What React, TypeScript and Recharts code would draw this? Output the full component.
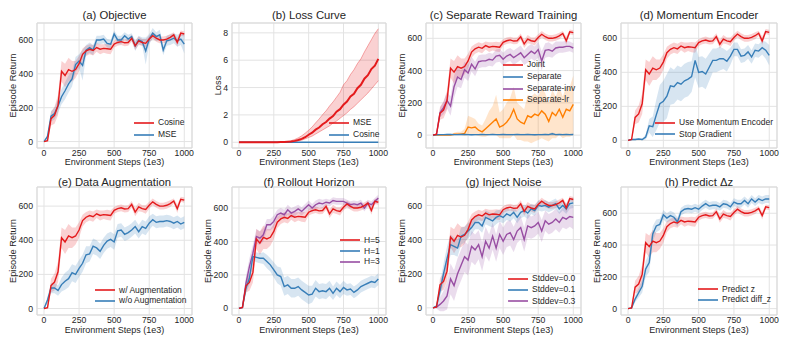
import React from "react";
import {
  ComposedChart,
  Line,
  Area,
  XAxis,
  YAxis,
  CartesianGrid,
  ReferenceArea,
} from "recharts";

const RED = "#e41a1c";
const BLUE = "#377eb8";
const PURPLE = "#984ea3";
const ORANGE = "#ff7f00";
const TEXT = "#262626";

// environment steps (1e3)
const STEPS = [
  0, 25, 50, 75, 100, 125, 150, 175, 200, 225, 250, 275, 300, 325, 350, 375,
  400, 425, 450, 475, 500, 525, 550, 575, 600, 625, 650, 675, 700, 725, 750,
  775, 800, 825, 850, 875, 900, 925, 950, 975, 1000,
];
const X_TICKS = [0, 250, 500, 750, 1000];
const RET_TICKS = [0, 200, 400, 600];
const LOSS_TICKS = [0, 2, 4, 6, 8];

// baseline (Cosine / Joint / momentum / w/ aug / H=5 / stddev 0 / predict z)
const BASE_MEAN = [
  0, 5, 135, 155, 215, 415, 390, 425, 415, 425, 460, 515, 535, 545, 538, 555,
  545, 550, 548, 545, 575, 585, 590, 583, 585, 610, 565, 595, 585, 580, 605,
  625, 610, 600, 600, 605, 615, 630, 585, 640, 635,
];
const BASE_SD = [
  0, 5, 40, 50, 60, 60, 70, 70, 60, 50, 45, 35, 30, 30, 30, 25, 30, 25, 30, 30,
  20, 20, 20, 20, 20, 20, 25, 25, 20, 25, 20, 20, 20, 20, 20, 20, 20, 15, 25,
  15, 15,
];

// (a) objective
const OBJ_MSE = [
  0, 30, 150, 165, 210, 265, 300, 340, 370, 455, 475, 450, 540, 555, 540, 600,
  600, 605, 580, 575, 635, 600, 600, 625, 605, 620, 565, 600, 590, 535, 605,
  640, 620, 630, 540, 595, 600, 610, 595, 605, 575,
];
const OBJ_MSE_SD = [
  0, 15, 30, 35, 40, 45, 50, 50, 45, 45, 40, 90, 30, 30, 30, 25, 25, 25, 25,
  25, 20, 25, 25, 20, 25, 20, 30, 25, 25, 80, 30, 30, 25, 30, 30, 30, 30, 30,
  35, 35, 55,
];

// (b) loss curve
const LOSS_MSE = [
  0, 0, 0, 0, 0, 0, 0, 0, 0, 0, 0, 0, 0.01, 0.01, 0.03, 0.05, 0.1, 0.17, 0.25,
  0.37, 0.55, 0.7, 0.92, 1.08, 1.32, 1.48, 1.73, 1.92, 2.24, 2.42, 2.75, 2.98,
  3.35, 3.55, 3.95, 4.2, 4.65, 4.9, 5.35, 5.6, 6.1,
];
const LOSS_MSE_HI = [
  0, 0, 0, 0, 0, 0, 0, 0, 0, 0, 0, 0, 0, 0.03, 0.06, 0.12, 0.2, 0.32, 0.47,
  0.66, 0.88, 1.12, 1.42, 1.7, 2.02, 2.3, 2.65, 2.95, 3.3, 3.65, 4.2, 4.5,
  4.95, 5.3, 5.75, 6.1, 6.6, 7.05, 7.5, 7.95, 8.3,
];
const LOSS_MSE_LO = [
  0, 0, 0, 0, 0, 0, 0, 0, 0, 0, 0, 0, 0, 0, 0, 0.02, 0.05, 0.1, 0.15, 0.25,
  0.35, 0.45, 0.6, 0.75, 0.9, 1.05, 1.2, 1.4, 1.55, 1.75, 1.95, 2.15, 2.4, 2.6,
  2.85, 3.1, 3.35, 3.6, 3.9, 4.2, 4.5,
];
const LOSS_COS = [
  0, 0, 0, 0, 0, 0, 0, 0, 0, 0, 0, 0, 0, 0, 0, 0, 0, 0, 0, 0, 0, 0, 0, 0, 0, 0,
  0, 0, 0, 0, 0, 0, 0, 0, 0, 0, 0, 0, 0, 0, 0,
];

// (c) separate reward training
const SEP = [
  0, 2, 3, 3, 4, 4, 3, 3, 4, 4, 3, 2, 3, 3, 4, 3, 3, 4, 3, 3, 4, 3, 3, 3, 4, 3,
  3, 4, 3, 2, 3, 3, 4, 3, 8, 3, 4, 3, 4, 3, 4,
];
const SEP_SD = [
  0, 3, 3, 3, 4, 4, 4, 4, 4, 4, 4, 4, 4, 4, 4, 4, 4, 4, 4, 4, 5, 5, 5, 5, 5, 5,
  5, 5, 5, 5, 5, 5, 5, 5, 10, 5, 5, 5, 5, 5, 5,
];
const SEP_INV = [
  0, 5, 140, 170, 215, 180, 300, 360, 345, 405, 385, 440, 410, 455, 460, 460,
  470, 465, 490, 495, 470, 490, 500, 480, 495, 510, 480, 500, 520, 505, 530,
  460, 525, 530, 520, 540, 545, 545, 550, 550, 540,
];
const SEP_INV_SD = [
  0, 5, 30, 40, 50, 60, 70, 60, 55, 50, 50, 45, 45, 40, 40, 40, 40, 40, 40, 40,
  40, 40, 40, 45, 45, 45, 45, 50, 45, 45, 50, 60, 45, 45, 40, 40, 35, 35, 35,
  30, 30,
];
const SEP_LR = [
  0, 0, 0, 0, 0, 0, 5, 5, 5, 10, 50, 45, 50, 30, 20, 40, 60, 80, 100, 50, 60,
  80, 110, 160, 100, 80, 70, 120, 110, 130, 120, 150, 130, 85, 140, 120, 160,
  110, 160, 150, 190,
];
const SEP_LR_LO = [
  0, 0, 0, 0, 0, 0, 0, 0, 0, -5, 0, 0, 0, -5, -10, -10, 0, 0, 0, -20, -20, -20,
  -20, 0, -30, -30, -40, -40, -50, -40, -30, -20, -30, -40, -20, -20, 0, -20,
  -10, -10, 0,
];
const SEP_LR_HI = [
  0, 0, 0, 0, 0, 0, 15, 20, 20, 40, 120, 110, 100, 70, 60, 100, 150, 180, 250,
  140, 160, 200, 230, 300, 200, 180, 160, 250, 240, 260, 240, 290, 260, 200,
  280, 240, 300, 240, 300, 300, 370,
];

// (d) momentum encoder
const STOPGRAD = [
  0, 5, 5, 8, 5, 20, 85, 80, 150, 215, 230, 260, 320, 315, 340, 330, 350, 360,
  375, 470, 400, 405, 390, 430, 470, 470, 480, 480, 465, 495, 535, 535, 495,
  500, 520, 490, 530, 525, 545, 530, 500,
];
const STOPGRAD_SD = [
  0, 5, 5, 5, 5, 15, 40, 60, 90, 110, 120, 130, 110, 100, 100, 100, 100, 100,
  90, 100, 90, 90, 90, 80, 70, 70, 70, 60, 60, 50, 40, 40, 40, 40, 40, 40, 40,
  40, 40, 50, 60,
];

// (e) data augmentation
const NOAUG = [
  0, 50, 120, 120, 105, 140, 160, 175, 210, 200, 235, 265, 315, 320, 365, 355,
  335, 370, 395, 405, 390, 455, 460, 435, 445, 460, 480, 450, 480, 470, 500,
  520, 505, 510, 510, 515, 510, 500, 510, 495, 505,
];
const NOAUG_SD = [
  0, 20, 30, 30, 30, 40, 50, 50, 50, 50, 50, 50, 50, 45, 45, 45, 45, 45, 45, 45,
  45, 40, 40, 40, 40, 40, 40, 40, 40, 40, 40, 35, 35, 35, 35, 35, 35, 35, 35,
  35, 35,
];

// (f) rollout horizon
const H1 = [
  0, 5, 120, 180, 310, 305, 300, 300, 280, 260, 230, 200, 190, 130, 140, 120,
  120, 130, 110, 95, 80, 85, 120, 100, 105, 100, 120, 90, 120, 100, 125, 110,
  115, 95, 110, 130, 140, 150, 160, 155, 175,
];
const H1_SD = [
  0, 5, 30, 40, 20, 30, 30, 35, 40, 40, 45, 50, 55, 55, 55, 55, 55, 55, 55, 55,
  55, 50, 50, 45, 45, 45, 45, 40, 40, 40, 40, 35, 35, 35, 35, 35, 35, 35, 35,
  35, 35,
];
const H3 = [
  0, 5, 150, 250, 330, 430, 420, 440, 500, 500, 520, 560, 570, 560, 590, 570,
  580, 595, 580, 600, 620, 600, 620, 630, 625, 635, 630, 645, 640, 640, 640,
  630, 620, 625, 620, 630, 600, 630, 620, 640, 660,
];
const H3_SD = [
  0, 5, 40, 50, 50, 45, 40, 40, 35, 35, 35, 30, 30, 30, 30, 30, 30, 25, 25, 25,
  25, 25, 25, 25, 25, 20, 20, 20, 20, 20, 20, 20, 20, 20, 20, 20, 20, 20, 20,
  20, 20,
];

// (g) inject noise
const NOISE01 = [
  0, 10, 100, 200, 290, 370, 360, 350, 420, 430, 450, 470, 500, 500, 480, 530,
  520, 510, 530, 540, 530, 550, 540, 560, 530, 560, 570, 555, 580, 570, 600,
  595, 600, 590, 600, 610, 580, 600, 580, 610, 615,
];
const NOISE01_SD = [
  0, 10, 40, 60, 70, 60, 50, 50, 50, 45, 45, 40, 40, 40, 40, 40, 40, 40, 40, 35,
  35, 35, 35, 35, 35, 35, 35, 35, 30, 30, 30, 30, 30, 30, 30, 30, 30, 30, 30,
  30, 30,
];
const NOISE03 = [
  0, 5, 20, 40, 70, 170, 130, 200, 250, 300, 280, 360, 340, 370, 300, 390, 350,
  420, 350, 430, 390, 430, 440, 400, 450, 470, 400, 480, 470, 480, 500, 450,
  510, 490, 500, 520, 500, 530, 520, 535, 530,
];
const NOISE03_SD = [
  0, 10, 40, 60, 80, 90, 90, 90, 90, 90, 90, 90, 90, 85, 85, 85, 80, 80, 80, 80,
  80, 75, 75, 75, 70, 70, 70, 70, 65, 65, 65, 65, 60, 60, 60, 60, 60, 60, 60,
  60, 70,
];

// (h) predict delta z
const DIFFZ = [
  0, 5, 60, 100, 140, 250, 290, 470, 520, 530, 590, 570, 585, 575, 545, 610,
  625, 630, 625, 635, 625, 645, 660, 645, 650, 650, 640, 660, 655, 640, 670,
  660, 660, 680, 660, 690, 670, 690, 680, 690, 690,
];
const DIFFZ_SD = [
  0, 5, 20, 30, 40, 50, 60, 50, 40, 35, 30, 30, 30, 30, 30, 25, 25, 25, 25, 25,
  25, 25, 25, 25, 25, 25, 25, 25, 25, 25, 25, 25, 25, 25, 25, 25, 25, 25, 25,
  25, 25,
];

type Series = {
  name: string;
  color: string;
  mean: number[];
  lo?: number[];
  hi?: number[];
  sd?: number[];
  edges?: boolean;
  width?: number;
};

type Spec = {
  title: string;
  col: number;
  row: number;
  yDomain: [number, number];
  yTicks?: number[];
  yLabel?: string;
  yLabelX?: number;
  legend: { x: number; y: number; rowH: number };
  series: Series[];
};

const COLS = [
  { plotLeft: 37, plotRight: 192 },
  { plotLeft: 232, plotRight: 386 },
  { plotLeft: 426, plotRight: 581 },
  { plotLeft: 621, plotRight: 777 },
];
const ROWS = [
  { top: 0, height: 172, plotTop: 23, plotBottom: 148, labelOffset: 7, titleY: 14.5 },
  { top: 164, height: 181, plotTop: 187, plotBottom: 315, labelOffset: 12, titleY: 181.5 },
];
const Y_W = 37;
const X_DOMAIN: [number, number] = [-50, 1055];

const PANELS: Spec[] = [
  {
    title: "(a) Objective", col: 0, row: 0, yDomain: [-38, 700],
    legend: { x: 134, y: 123, rowH: 11.5 },
    series: [
      { name: "Cosine", color: RED, mean: BASE_MEAN, sd: BASE_SD },
      { name: "MSE", color: BLUE, mean: OBJ_MSE, sd: OBJ_MSE_SD },
    ],
  },
  {
    title: "(b) Loss Curve", col: 1, row: 0, yDomain: [-0.42, 8.72],
    yTicks: LOSS_TICKS, yLabel: "Loss", yLabelX: 23,
    legend: { x: 329, y: 123, rowH: 11.5 },
    series: [
      { name: "MSE", color: RED, mean: LOSS_MSE, lo: LOSS_MSE_LO, hi: LOSS_MSE_HI, edges: true, width: 2 },
      { name: "Cosine", color: BLUE, mean: LOSS_COS, lo: LOSS_COS, hi: LOSS_COS },
    ],
  },
  {
    title: "(c) Separate Reward Training", col: 2, row: 0, yDomain: [-80, 695],
    legend: { x: 503, y: 65, rowH: 11.8 },
    series: [
      { name: "Joint", color: RED, mean: BASE_MEAN, sd: BASE_SD },
      { name: "Separate", color: BLUE, mean: SEP, sd: SEP_SD },
      { name: "Separate-inv", color: PURPLE, mean: SEP_INV, sd: SEP_INV_SD },
      { name: "Separate-lr", color: ORANGE, mean: SEP_LR, lo: SEP_LR_LO, hi: SEP_LR_HI },
    ],
  },
  {
    title: "(d) Momentum Encoder", col: 3, row: 0, yDomain: [-45, 690],
    legend: { x: 655, y: 123, rowH: 11.3 },
    series: [
      { name: "Use Momentum Encoder", color: RED, mean: BASE_MEAN, sd: BASE_SD },
      { name: "Stop Gradient", color: BLUE, mean: STOPGRAD, sd: STOPGRAD_SD },
    ],
  },
  {
    title: "(e) Data Augmentation", col: 0, row: 1, yDomain: [-38, 712],
    legend: { x: 95, y: 290.3, rowH: 10.3 },
    series: [
      { name: "w/ Augmentation", color: RED, mean: BASE_MEAN, sd: BASE_SD },
      { name: "w/o Augmentation", color: BLUE, mean: NOAUG, sd: NOAUG_SD },
    ],
  },
  {
    title: "(f) Rollout Horizon", col: 1, row: 1, yDomain: [-40, 726],
    legend: { x: 340, y: 240.3, rowH: 10.8 },
    series: [
      { name: "H=5", color: RED, mean: BASE_MEAN, sd: BASE_SD },
      { name: "H=1", color: BLUE, mean: H1, sd: H1_SD },
      { name: "H=3", color: PURPLE, mean: H3, sd: H3_SD },
    ],
  },
  {
    title: "(g) Inject Noise", col: 2, row: 1, yDomain: [-42, 708],
    legend: { x: 508, y: 278.7, rowH: 11.3 },
    series: [
      { name: "Stddev=0.0", color: RED, mean: BASE_MEAN, sd: BASE_SD },
      { name: "Stddev=0.1", color: BLUE, mean: NOISE01, sd: NOISE01_SD },
      { name: "Stddev=0.3", color: PURPLE, mean: NOISE03, sd: NOISE03_SD },
    ],
  },
  {
    title: "(h) Predict \u0394z", col: 3, row: 1, yDomain: [-40, 765],
    legend: { x: 698, y: 289.3, rowH: 10.4 },
    series: [
      { name: "Predict z", color: RED, mean: BASE_MEAN, sd: BASE_SD },
      { name: "Predict diff_z", color: BLUE, mean: DIFFZ, sd: DIFFZ_SD },
    ],
  },
];

function LegendBox({ items, x, y, rowH }: { items: Series[]; x: number; y: number; rowH: number }) {
  return (
    <div style={{ position: "absolute", left: x, top: y - rowH / 2, zIndex: 3 }}>
      {items.map((it) => (
        <div key={it.name} style={{ display: "flex", alignItems: "center", height: rowH }}>
          <svg width={20} height={4} style={{ marginRight: 4, display: "block" }}>
            <line x1={0} y1={2} x2={20} y2={2} stroke={it.color} strokeWidth={1.6} />
          </svg>
          <span style={{ fontSize: 8.5, lineHeight: `${rowH}px`, color: TEXT, whiteSpace: "nowrap" }}>
            {it.name}
          </span>
        </div>
      ))}
    </div>
  );
}

function Panel({ spec }: { spec: Spec }) {
  const col = COLS[spec.col];
  const row = ROWS[spec.row];
  const left = col.plotLeft - Y_W;
  const width = col.plotRight - left + 4;

  const data = STEPS.map((x, i) => {
    const r: any = { x };
    spec.series.forEach((s, k) => {
      const lo = s.lo ? s.lo[i] : s.mean[i] - (s.sd ? s.sd[i] : 0);
      const hi = s.hi ? s.hi[i] : s.mean[i] + (s.sd ? s.sd[i] : 0);
      r["m" + k] = s.mean[i];
      r["b" + k] = [lo, hi];
      r["lo" + k] = lo;
      r["hi" + k] = hi;
    });
    return r;
  });

  const lineOrder = spec.series.map((s, k) => k).reverse();

  return (
    <>
      <div style={{ position: "absolute", left, top: row.top, zIndex: 1 }}>
        <ComposedChart
          width={width}
          height={row.height}
          data={data}
          margin={{ top: row.plotTop - row.top, right: 4, bottom: 0, left: 0 }}
        >
          <CartesianGrid stroke="#e3e3e3" strokeWidth={1} />
          <XAxis
            dataKey="x"
            type="number"
            domain={X_DOMAIN}
            ticks={X_TICKS}
            interval={0}
            allowDataOverflow
            axisLine={false}
            tickLine={false}
            tickSize={0}
            tickMargin={2}
            height={row.top + row.height - row.plotBottom}
            tick={{ fontSize: 8.7, fill: TEXT }}
            label={{
              value: "Environment Steps (1e3)",
              position: "insideBottom",
              offset: row.labelOffset,
              fontSize: 9,
              fill: TEXT,
            }}
          />
          <YAxis
            type="number"
            domain={spec.yDomain}
            ticks={spec.yTicks || RET_TICKS}
            interval={0}
            allowDataOverflow
            axisLine={false}
            tickLine={false}
            tickSize={0}
            tickMargin={4}
            width={Y_W}
            tick={{ fontSize: 8.7, fill: TEXT }}
            label={{
              value: spec.yLabel || "Episode Return",
              angle: -90,
              position: "insideLeft",
              offset: spec.yLabelX ?? 13,
              textAnchor: "middle",
              fontSize: 9.3,
              fill: TEXT,
            }}
          />
          {spec.series.map((s, k) => (
            <Area
              key={"band" + k}
              dataKey={"b" + k}
              type="linear"
              stroke="none"
              fill={s.color}
              fillOpacity={0.2}
              legendType="none"
              dot={false}
              activeDot={false}
              isAnimationActive={false}
            />
          ))}
          {spec.series.map((s, k) =>
            s.edges
              ? [
                  <Line key={"lo" + k} dataKey={"lo" + k} type="linear" stroke={s.color} strokeOpacity={0.35} strokeWidth={1} dot={false} activeDot={false} isAnimationActive={false} />,
                  <Line key={"hi" + k} dataKey={"hi" + k} type="linear" stroke={s.color} strokeOpacity={0.35} strokeWidth={1} dot={false} activeDot={false} isAnimationActive={false} />,
                ]
              : null
          )}
          {lineOrder.map((k) => (
            <Line
              key={"line" + k}
              dataKey={"m" + k}
              type="linear"
              stroke={spec.series[k].color}
              strokeWidth={spec.series[k].width ?? 1.4}
              dot={false}
              activeDot={false}
              isAnimationActive={false}
            />
          ))}
          <ReferenceArea
            x1={X_DOMAIN[0]}
            x2={X_DOMAIN[1]}
            y1={spec.yDomain[0]}
            y2={spec.yDomain[1]}
            fill="none"
            stroke="#d9d9d9"
            strokeWidth={1}
            ifOverflow="visible"
          />
        </ComposedChart>
      </div>
      <div
        style={{
          position: "absolute",
          left: col.plotLeft - 20,
          width: col.plotRight - col.plotLeft + 40,
          top: row.titleY - 8,
          height: 16,
          lineHeight: "16px",
          textAlign: "center",
          fontSize: 11.3,
          color: TEXT,
          whiteSpace: "nowrap",
          zIndex: 2,
        }}
      >
        {spec.title}
      </div>
      <LegendBox items={spec.series} x={spec.legend.x} y={spec.legend.y} rowH={spec.legend.rowH} />
    </>
  );
}

export default function App() {
  return (
    <div
      style={{
        position: "absolute",
        left: 0,
        top: 0,
        width: 789,
        height: 345,
        background: "#fff",
        overflow: "hidden",
        fontFamily: "'Liberation Sans', Arial, Helvetica, sans-serif",
      }}
    >
      {PANELS.map((p) => (
        <Panel key={p.title} spec={p} />
      ))}
    </div>
  );
}
